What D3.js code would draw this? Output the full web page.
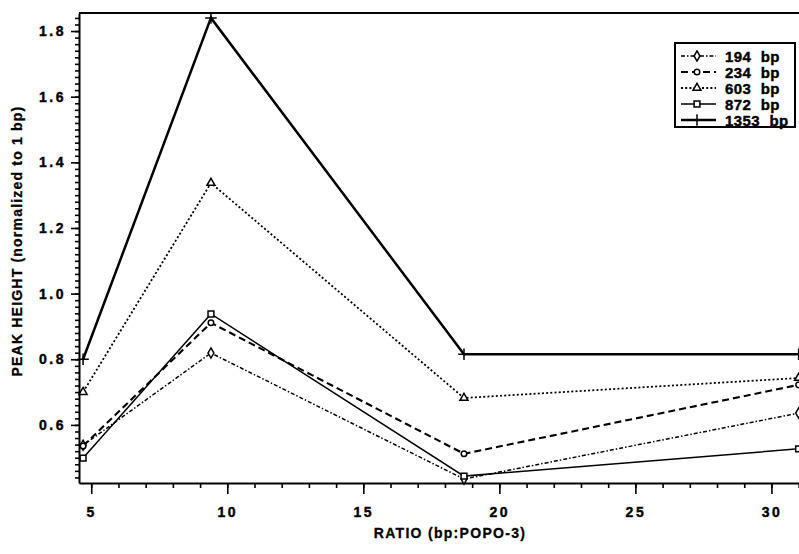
<!DOCTYPE html>
<html>
<head>
<meta charset="utf-8">
<script src="https://cdn.jsdelivr.net/npm/d3@7"></script>
<style>
  body { margin: 0; background: #fff; }
  svg { display: block; }
  text { font-family: "Liberation Sans", Arial, sans-serif; font-weight: bold; fill: #000; }
</style>
</head>
<body>
<div id="chart"></div>
<script>
// data
var ratio = [4.7, 9.4, 18.7, 31.0];
var bp194 = [0.538, 0.819, 0.435, 0.636];
var bp234 = [0.536, 0.911, 0.512, 0.722];
var bp603 = [0.700, 1.337, 0.682, 0.743];
var bp872 = [0.499, 0.938, 0.444, 0.527];
var bp1353 = [0.800, 1.840, 0.815, 0.815];
var seriesNames = ["194 bp", "234 bp", "603 bp", "872 bp", "1353 bp"];
var xTicks = [5, 10, 15, 20, 25, 30];
var yTicks = [0.6, 0.8, 1.0, 1.2, 1.4, 1.6, 1.8];

var width = 799,
  height = 554;

var x = d3.scaleLinear().domain([4.55, 31.05]).range([79, 800]),
  y = d3.scaleLinear().domain([0.423, 1.855]).range([483, 13]);

var svg = d3.select("#chart").append("svg")
  .attr("width", width)
  .attr("height", height);

// look of each series: dash, width, marker
var styles = [
  {dash: "4,2,1.5,2", w: 1.5, sym: d3.symbolDiamond, size: 30},
  {dash: "7,4", w: 2.1, sym: d3.symbolCircle, size: 24},
  {dash: "2,2.2", w: 1.8, sym: d3.symbolTriangle, size: 28},
  {dash: null, w: 1.5, sym: d3.symbolSquare, size: 34},
  {dash: null, w: 2.5, sym: d3.symbolPlus || d3.symbolCross, size: 45}
];

var series = [bp194, bp234, bp603, bp872, bp1353].map(function(vals, i) {
  return {name: seriesNames[i], style: styles[i],
    pts: vals.map(function(v, j) { return [ratio[j], v]; })};
});

// top frame line
svg.append("line")
  .attr("x1", x.range()[0]).attr("x2", width)
  .attr("y1", y.range()[1]).attr("y2", y.range()[1])
  .attr("stroke", "#000").attr("stroke-width", 2);

// axes
var yMinor = d3.range(0.44, 1.851, 0.02);
svg.append("g")
  .attr("transform", "translate(" + x.range()[0] + ",0)")
  .call(d3.axisLeft(y).tickValues(yMinor).tickSize(4).tickFormat("").tickSizeOuter(0))
  .call(function(g) { g.select(".domain").remove(); });

svg.append("g")
  .attr("class", "yaxis")
  .attr("transform", "translate(" + x.range()[0] + ",0)")
  .call(d3.axisLeft(y).tickValues(yTicks).tickSize(8).tickSizeOuter(0).tickFormat(d3.format(".1f")));

var xMinor = d3.range(5, 32, 1);
svg.append("g")
  .attr("transform", "translate(0," + y.range()[0] + ")")
  .call(d3.axisBottom(x).tickValues(xMinor).tickSize(5).tickFormat("").tickSizeOuter(0))
  .call(function(g) { g.select(".domain").remove(); });

svg.append("g")
  .attr("class", "xaxis")
  .attr("transform", "translate(0," + y.range()[0] + ")")
  .call(d3.axisBottom(x).tickValues(xTicks).tickSize(11).tickSizeOuter(0).tickPadding(13));

svg.selectAll(".domain").attr("stroke-width", 2);
svg.selectAll(".tick line").attr("stroke-width", 1.6);
svg.selectAll(".tick text")
  .style("font-size", "14px")
  .style("letter-spacing", "2.5px")
  .style("font-family", "'Liberation Sans', Arial, sans-serif")
  .style("font-weight", "bold")
  .style("stroke", "#000")
  .style("stroke-width", "0.4px");
svg.selectAll(".yaxis .tick text").attr("x", -13);

// axis titles
svg.append("text")
  .attr("x", 450).attr("y", 538)
  .attr("text-anchor", "middle")
  .style("font-size", "14px")
  .style("letter-spacing", "1.3px")
  .style("stroke", "#000")
  .style("stroke-width", "0.3px")
  .text("RATIO (bp:POPO-3)");

svg.append("text")
  .attr("transform", "translate(22,241) rotate(-90)")
  .attr("text-anchor", "middle")
  .style("font-size", "14px")
  .style("letter-spacing", "1.2px")
  .style("stroke", "#000")
  .style("stroke-width", "0.3px")
  .text("PEAK HEIGHT (normalized to 1 bp)");

// lines
var line = d3.line()
  .x(function(d) { return x(d[0]); })
  .y(function(d) { return y(d[1]); });

svg.selectAll(".series")
  .data(series)
  .enter()
  .append("path")
  .attr("d", function(d) { return line(d.pts); })
  .attr("fill", "none")
  .attr("stroke", "#000")
  .attr("stroke-width", function(d) { return d.style.w; })
  .attr("stroke-dasharray", function(d) { return d.style.dash; });

// markers
series.forEach(function(s) {
  svg.selectAll(null)
    .data(s.pts)
    .enter()
    .append("path")
    .attr("transform", function(d) { return "translate(" + x(d[0]) + "," + y(d[1]) + ")"; })
    .attr("d", d3.symbol().type(s.style.sym).size(s.style.size))
    .attr("fill", "#fff")
    .attr("stroke", "#000")
    .attr("stroke-width", 1.5);
});

// legend
var lg = svg.append("g");
lg.append("rect")
  .attr("x", 675).attr("y", 43)
  .attr("width", 120).attr("height", 84)
  .attr("fill", "#fff")
  .attr("stroke", "#000")
  .attr("stroke-width", 2);

var row = lg.selectAll(".row")
  .data(series)
  .enter()
  .append("g")
  .attr("transform", function(d, i) { return "translate(0," + (56 + i * 16) + ")"; });

row.append("line")
  .attr("x1", 681).attr("x2", 716)
  .attr("stroke", "#000")
  .attr("stroke-width", function(d) { return d.style.w; })
  .attr("stroke-dasharray", function(d) { return d.style.dash; });

row.append("path")
  .attr("transform", "translate(697,0)")
  .attr("d", function(d) { return d3.symbol().type(d.style.sym).size(d.style.size)(); })
  .attr("fill", "#fff")
  .attr("stroke", "#000")
  .attr("stroke-width", 1.5);

row.append("text")
  .attr("x", 725).attr("y", 5.5)
  .style("font-size", "15px")
  .style("word-spacing", "5px")
  .style("letter-spacing", "0.4px")
  .style("stroke", "#000")
  .style("stroke-width", "0.4px")
  .text(function(d) { return d.name; });
</script>
</body>
</html>
